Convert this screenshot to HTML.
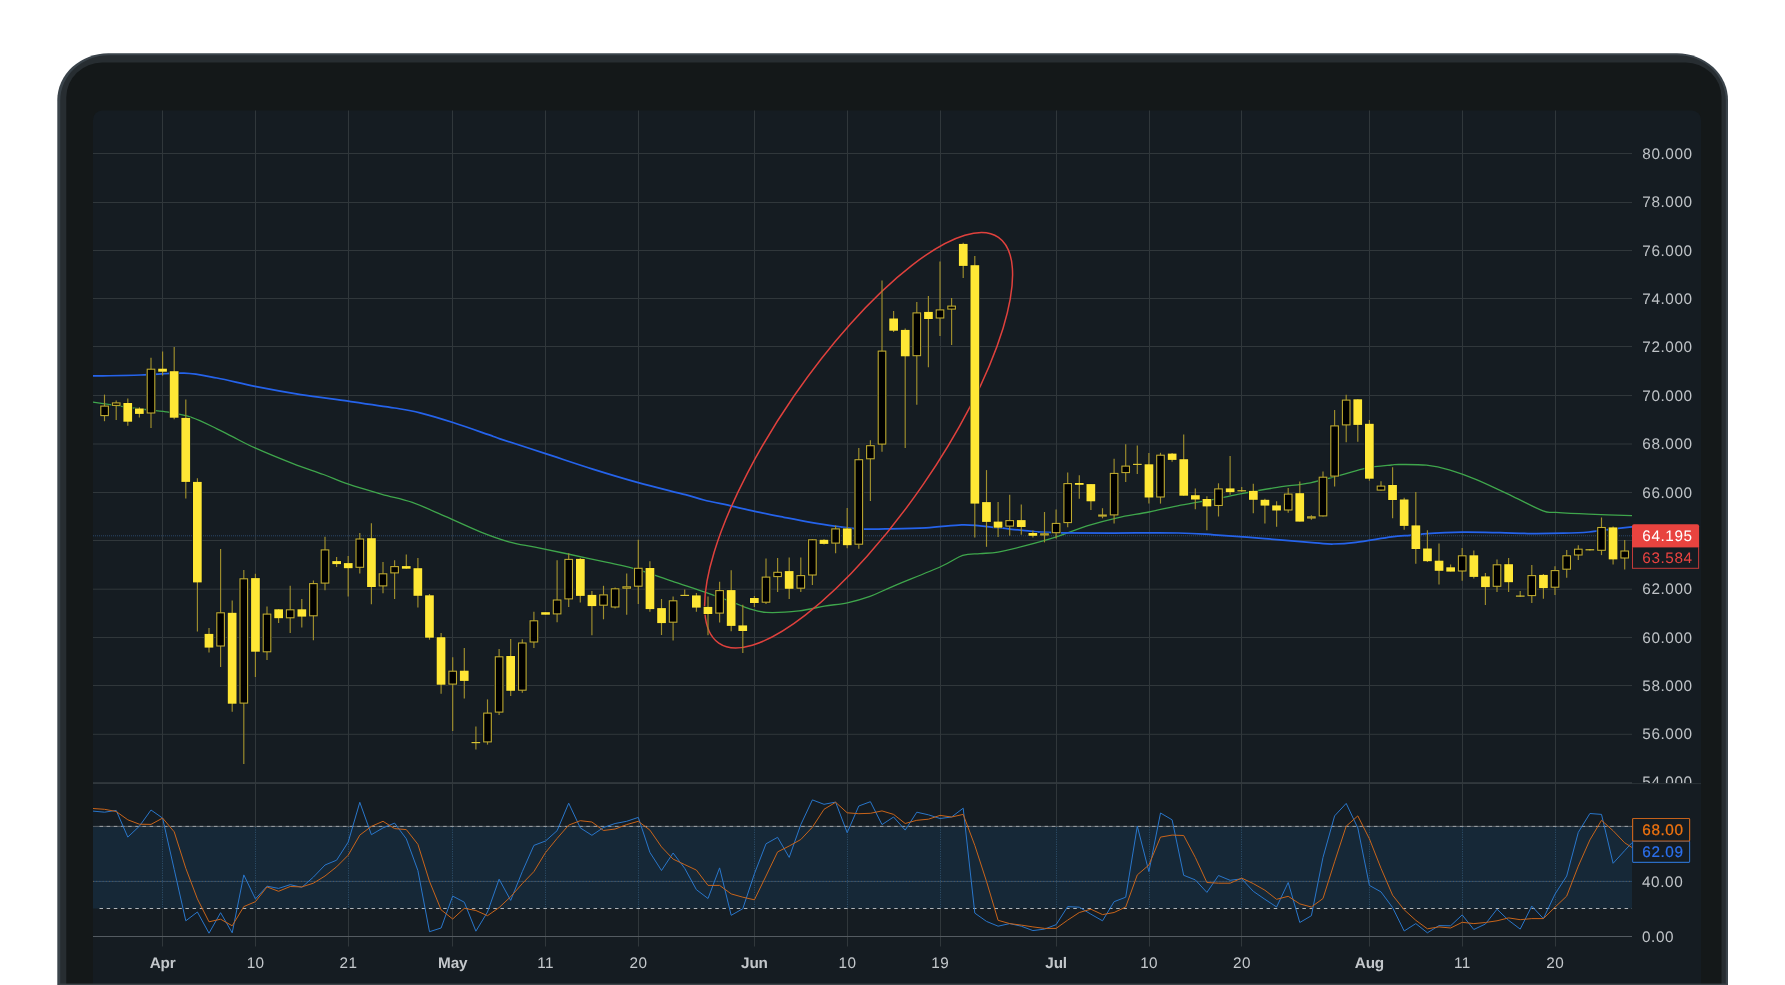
<!DOCTYPE html>
<html lang="en"><head><meta charset="utf-8"><title>Chart</title>
<style>html,body{margin:0;padding:0;background:#fff;}body{width:1785px;height:985px;overflow:hidden;position:relative;}svg{display:block;position:absolute;left:0;top:0;will-change:transform;}text{font-family:"Liberation Sans", Arial, sans-serif;text-rendering:geometricPrecision;}</style>
</head><body>
<svg width="1785" height="985" viewBox="0 0 1785 985">
<defs><clipPath id="main"><rect x="93" y="110.5" width="1608" height="673.1"/></clipPath>
<clipPath id="plot"><rect x="93" y="110.5" width="1539" height="672.5"/></clipPath>
<clipPath id="sub"><rect x="93" y="783" width="1539" height="202"/></clipPath></defs>
<g id="frame">
<rect x="57.3" y="53.3" width="1670.7" height="1000" rx="51" ry="47" fill="#3a434a"/>
<rect x="60.2" y="55.2" width="1665.6" height="1000" rx="48.5" ry="45.5" fill="#272d31"/>
<rect x="66.3" y="62.6" width="1655.2" height="1000" rx="36" ry="34.5" fill="#141819"/>
<rect x="93" y="110.5" width="1608" height="1000" rx="9" ry="9" fill="#151c22"/>
</g>
<g id="grid" stroke="#30373b" stroke-width="1">
<line x1="93" y1="153.5" x2="1632" y2="153.5"/>
<line x1="93" y1="202.5" x2="1632" y2="202.5"/>
<line x1="93" y1="250.5" x2="1632" y2="250.5"/>
<line x1="93" y1="298.5" x2="1632" y2="298.5"/>
<line x1="93" y1="346.5" x2="1632" y2="346.5"/>
<line x1="93" y1="395.5" x2="1632" y2="395.5"/>
<line x1="93" y1="444.0" x2="1632" y2="444.0"/>
<line x1="93" y1="492.5" x2="1632" y2="492.5"/>
<line x1="93" y1="540.5" x2="1632" y2="540.5"/>
<line x1="93" y1="589.2" x2="1632" y2="589.2"/>
<line x1="93" y1="637.5" x2="1632" y2="637.5"/>
<line x1="93" y1="685.5" x2="1632" y2="685.5"/>
<line x1="93" y1="734.3" x2="1632" y2="734.3"/>
<line x1="93" y1="783.0" x2="1632" y2="783.0"/>
<line x1="162.5" y1="110.5" x2="162.5" y2="946.5"/>
<line x1="255.5" y1="110.5" x2="255.5" y2="946.5"/>
<line x1="348.5" y1="110.5" x2="348.5" y2="946.5"/>
<line x1="452.5" y1="110.5" x2="452.5" y2="946.5"/>
<line x1="545.5" y1="110.5" x2="545.5" y2="946.5"/>
<line x1="638.5" y1="110.5" x2="638.5" y2="946.5"/>
<line x1="754.5" y1="110.5" x2="754.5" y2="946.5"/>
<line x1="847.5" y1="110.5" x2="847.5" y2="946.5"/>
<line x1="940.5" y1="110.5" x2="940.5" y2="946.5"/>
<line x1="1056.5" y1="110.5" x2="1056.5" y2="946.5"/>
<line x1="1149.5" y1="110.5" x2="1149.5" y2="946.5"/>
<line x1="1241.5" y1="110.5" x2="1241.5" y2="946.5"/>
<line x1="1369.5" y1="110.5" x2="1369.5" y2="946.5"/>
<line x1="1462.5" y1="110.5" x2="1462.5" y2="946.5"/>
<line x1="1555.5" y1="110.5" x2="1555.5" y2="946.5"/>
</g>
<line x1="93" y1="535.8" x2="1632" y2="535.8" stroke="#2a4668" stroke-width="1" stroke-dasharray="1 1"/>
<g clip-path="url(#plot)" fill="none" stroke-linejoin="round" stroke-linecap="round">
<path d="M93 402.2 C96.73 402.75 107.43 404.37 115.4 405.5 C123.37 406.63 132.37 407.95 140.8 409 C149.23 410.05 157.55 410.4 166 411.8 C174.45 413.2 183 414.57 191.5 417.4 C200 420.23 210.25 425.63 217 428.8 C223.75 431.97 225.67 433.22 232 436.4 C238.33 439.58 244.83 443.37 255 447.9 C265.17 452.43 281.58 459.17 293 463.6 C304.42 468.03 314.27 471.07 323.5 474.5 C332.73 477.93 338.65 480.9 348.4 484.2 C358.15 487.5 371.35 491.27 382 494.3 C392.65 497.33 401.75 498.72 412.3 502.4 C422.85 506.08 433.87 511.45 445.3 516.4 C456.73 521.35 470.32 527.87 480.9 532.1 C491.48 536.33 499.78 539.28 508.8 541.8 C517.82 544.32 525.13 545.17 535 547.2 C544.87 549.23 556.17 551.5 568 554 C579.83 556.5 594.23 559.57 606 562.2 C617.77 564.83 627.6 566.63 638.6 569.8 C649.6 572.97 660.48 577.32 672 581.2 C683.52 585.08 697.53 589.58 707.7 593.1 C717.87 596.62 726.23 599.75 733 602.3 C739.77 604.85 742.8 606.72 748.3 608.4 C753.8 610.08 757.55 611.98 766 612.4 C774.45 612.82 789.27 611.95 799 610.9 C808.73 609.85 816.35 607.45 824.4 606.1 C832.45 604.75 839.7 604.42 847.3 602.8 C854.9 601.18 862.38 599.15 870 596.4 C877.62 593.65 881.17 591.28 893 586.3 C904.83 581.32 929.38 571.67 941 566.5 C952.62 561.33 956.2 557.45 962.7 555.3 C969.2 553.15 974.12 554.13 980 553.6 C985.88 553.07 990.75 553.33 998 552.1 C1005.25 550.87 1013.77 548.73 1023.5 546.2 C1033.23 543.67 1045.82 540.28 1056.4 536.9 C1066.98 533.52 1076.83 529.08 1087 525.9 C1097.17 522.72 1107.07 520.12 1117.4 517.8 C1127.73 515.48 1138.43 514.12 1149 512 C1159.57 509.88 1170 507.22 1180.8 505.1 C1191.6 502.98 1203.65 501.2 1213.8 499.3 C1223.95 497.4 1231.12 495.68 1241.7 493.7 C1252.28 491.72 1265.87 489.22 1277.3 487.4 C1288.73 485.58 1299.73 484.83 1310.3 482.8 C1320.87 480.77 1331.42 477.65 1340.7 475.2 C1349.98 472.75 1357.53 469.8 1366 468.1 C1374.47 466.4 1385.67 465.6 1391.5 465 C1397.33 464.4 1395.18 464.47 1401 464.5 C1406.82 464.53 1418.37 464.32 1426.4 465.2 C1434.43 466.08 1440.77 467.35 1449.2 469.8 C1457.63 472.25 1466.42 475.47 1477 479.9 C1487.58 484.33 1501.7 491.23 1512.7 496.4 C1523.7 501.57 1535.82 508.23 1543 510.9 C1550.18 513.57 1548.17 511.85 1555.8 512.4 C1563.43 512.95 1576.1 513.65 1588.8 514.2 C1601.5 514.75 1624.8 515.45 1632 515.7" stroke="#3fa64c" stroke-width="1.3"/>
<path d="M93 376 C100.97 375.83 125.63 375.47 140.8 375 C155.97 374.53 171.3 372.7 184 373.2 C196.7 373.7 205.17 375.8 217 378 C228.83 380.2 241.05 383.63 255 386.4 C268.95 389.17 285.13 392.13 300.7 394.6 C316.27 397.07 332.75 398.97 348.4 401.2 C364.05 403.43 382.67 406.07 394.6 408 C406.53 409.93 410.27 410.38 420 412.8 C429.73 415.22 441.58 418.85 453 422.5 C464.42 426.15 480.67 431.98 488.5 434.7 C496.33 437.42 490.5 435.65 500 438.8 C509.5 441.95 530.05 448.55 545.5 453.6 C560.95 458.65 577.25 464.27 592.7 469.1 C608.15 473.93 622.75 478.33 638.2 482.6 C653.65 486.87 674.45 491.8 685.4 494.7 C696.35 497.6 695.97 498.07 703.9 500 C711.83 501.93 723.92 504.27 733 506.3 C742.08 508.33 749.93 510.37 758.4 512.2 C766.87 514.03 775.33 515.65 783.8 517.3 C792.27 518.95 800.73 520.63 809.2 522.1 C817.67 523.57 826.13 524.97 834.6 526.1 C843.07 527.23 851.55 528.43 860 528.9 C868.45 529.37 874.3 529.07 885.3 528.9 C896.3 528.73 913.3 528.57 926 527.9 C938.7 527.23 952.5 525.23 961.5 524.9 C970.5 524.57 973.92 525.43 980 525.9 C986.08 526.37 988.67 526.72 998 527.7 C1007.33 528.68 1025.42 530.95 1036 531.8 C1046.58 532.65 1048.78 532.6 1061.5 532.8 C1074.22 533 1092.83 532.97 1112.3 533 C1131.77 533.03 1161.38 532.7 1178.3 533 C1195.22 533.3 1199.42 533.87 1213.8 534.8 C1228.18 535.73 1247.68 537.25 1264.6 538.6 C1281.52 539.95 1303.9 542 1315.3 542.9 C1326.7 543.8 1326.22 544.08 1333 544 C1339.78 543.92 1346.25 543.58 1356 542.4 C1365.75 541.22 1382.5 538.08 1391.5 536.9 C1400.5 535.72 1404.62 535.82 1410 535.3 C1415.38 534.78 1415.13 534.32 1423.8 533.8 C1432.47 533.28 1449.3 532.38 1462 532.2 C1474.7 532.02 1489.02 532.48 1500 532.7 C1510.98 532.92 1517.33 533.42 1527.9 533.5 C1538.47 533.58 1553.25 533.45 1563.4 533.2 C1573.55 532.95 1580.33 532.72 1588.8 532 C1597.27 531.28 1607 529.75 1614.2 528.9 C1621.4 528.05 1629.03 527.23 1632 526.9" stroke="#2563eb" stroke-width="1.75"/>
<ellipse cx="858.6" cy="440.2" rx="246.4" ry="78.3" transform="rotate(-55.42 858.6 440.2)" stroke="#e0413d" stroke-width="1.5"/>
</g>
<g id="candles" clip-path="url(#plot)">
<rect x="99.6" y="404.9" width="9.9" height="11.8" fill="#0f171f"/>
<rect x="111.2" y="401.8" width="9.9" height="4.8" fill="#0f171f"/>
<rect x="122.8" y="402.4" width="9.9" height="19.9" fill="#0f171f"/>
<rect x="134.4" y="407.9" width="9.9" height="6.6" fill="#0f171f"/>
<rect x="146" y="368.1" width="9.9" height="46.1" fill="#0f171f"/>
<rect x="157.6" y="368.1" width="9.9" height="4.2" fill="#0f171f"/>
<rect x="169.2" y="370.6" width="9.9" height="47.7" fill="#0f171f"/>
<rect x="180.8" y="417.3" width="9.9" height="65.2" fill="#0f171f"/>
<rect x="192.4" y="481.3" width="9.9" height="101.7" fill="#0f171f"/>
<rect x="204" y="633.3" width="9.9" height="14.9" fill="#0f171f"/>
<rect x="215.6" y="611.7" width="9.9" height="35.5" fill="#0f171f"/>
<rect x="227.2" y="612.2" width="9.9" height="92.1" fill="#0f171f"/>
<rect x="238.8" y="577.7" width="9.9" height="126.6" fill="#0f171f"/>
<rect x="250.5" y="577.5" width="9.9" height="74.8" fill="#0f171f"/>
<rect x="262.1" y="613" width="9.9" height="40" fill="#0f171f"/>
<rect x="273.7" y="608.7" width="9.9" height="10.1" fill="#0f171f"/>
<rect x="285.3" y="608.7" width="9.9" height="10.3" fill="#0f171f"/>
<rect x="296.9" y="608.7" width="9.9" height="8.5" fill="#0f171f"/>
<rect x="308.5" y="582.5" width="9.9" height="34.5" fill="#0f171f"/>
<rect x="320.1" y="548.8" width="9.9" height="35.5" fill="#0f171f"/>
<rect x="331.7" y="560.5" width="9.9" height="4.2" fill="#0f171f"/>
<rect x="343.3" y="562.5" width="9.9" height="6.3" fill="#0f171f"/>
<rect x="354.9" y="537.9" width="9.9" height="30.6" fill="#0f171f"/>
<rect x="366.5" y="537.6" width="9.9" height="50" fill="#0f171f"/>
<rect x="378.1" y="572.6" width="9.9" height="14.4" fill="#0f171f"/>
<rect x="389.7" y="565.5" width="9.9" height="8.6" fill="#0f171f"/>
<rect x="401.3" y="565.5" width="9.9" height="3.8" fill="#0f171f"/>
<rect x="412.9" y="567.6" width="9.9" height="28.8" fill="#0f171f"/>
<rect x="424.5" y="594.7" width="9.9" height="43.6" fill="#0f171f"/>
<rect x="436.1" y="636.6" width="9.9" height="48.7" fill="#0f171f"/>
<rect x="447.7" y="670.1" width="9.9" height="15.2" fill="#0f171f"/>
<rect x="459.3" y="670.1" width="9.9" height="11.4" fill="#0f171f"/>
<rect x="470.9" y="741.4" width="9.9" height="2.4" fill="#0f171f"/>
<rect x="482.5" y="712" width="9.9" height="31.1" fill="#0f171f"/>
<rect x="494.1" y="655.6" width="9.9" height="57.6" fill="#0f171f"/>
<rect x="505.7" y="655.4" width="9.9" height="36" fill="#0f171f"/>
<rect x="517.3" y="641.9" width="9.9" height="49.5" fill="#0f171f"/>
<rect x="528.9" y="619.6" width="9.9" height="23.5" fill="#0f171f"/>
<rect x="540.6" y="611.6" width="9.9" height="3.7" fill="#0f171f"/>
<rect x="552.2" y="598.9" width="9.9" height="16.2" fill="#0f171f"/>
<rect x="563.8" y="558.3" width="9.9" height="41.8" fill="#0f171f"/>
<rect x="575.4" y="558.3" width="9.9" height="38.2" fill="#0f171f"/>
<rect x="587" y="594.3" width="9.9" height="12.4" fill="#0f171f"/>
<rect x="598.6" y="593.8" width="9.9" height="12.6" fill="#0f171f"/>
<rect x="610.2" y="587.7" width="9.9" height="20.5" fill="#0f171f"/>
<rect x="621.8" y="585.7" width="9.9" height="3.7" fill="#0f171f"/>
<rect x="633.4" y="567.2" width="9.9" height="20.2" fill="#0f171f"/>
<rect x="645" y="567.4" width="9.9" height="42.3" fill="#0f171f"/>
<rect x="656.6" y="607.5" width="9.9" height="16.2" fill="#0f171f"/>
<rect x="668.2" y="599.7" width="9.9" height="23.7" fill="#0f171f"/>
<rect x="679.8" y="594.2" width="9.9" height="2.4" fill="#0f171f"/>
<rect x="691.4" y="594.8" width="9.9" height="13.4" fill="#0f171f"/>
<rect x="703" y="606.3" width="9.9" height="8.3" fill="#0f171f"/>
<rect x="714.6" y="589.5" width="9.9" height="24.8" fill="#0f171f"/>
<rect x="726.2" y="589.5" width="9.9" height="37" fill="#0f171f"/>
<rect x="737.8" y="624.8" width="9.9" height="6.8" fill="#0f171f"/>
<rect x="749.4" y="597.4" width="9.9" height="6.2" fill="#0f171f"/>
<rect x="761" y="576" width="9.9" height="27.4" fill="#0f171f"/>
<rect x="772.6" y="571.2" width="9.9" height="6.6" fill="#0f171f"/>
<rect x="784.2" y="570.5" width="9.9" height="18.9" fill="#0f171f"/>
<rect x="795.8" y="574.5" width="9.9" height="14.9" fill="#0f171f"/>
<rect x="807.4" y="538.7" width="9.9" height="37.5" fill="#0f171f"/>
<rect x="819" y="539.2" width="9.9" height="5.3" fill="#0f171f"/>
<rect x="830.7" y="527.8" width="9.9" height="16.5" fill="#0f171f"/>
<rect x="842.3" y="527.8" width="9.9" height="18" fill="#0f171f"/>
<rect x="853.9" y="458.5" width="9.9" height="86.8" fill="#0f171f"/>
<rect x="865.5" y="444.5" width="9.9" height="15.4" fill="#0f171f"/>
<rect x="877.1" y="349.9" width="9.9" height="95.3" fill="#0f171f"/>
<rect x="888.7" y="317.9" width="9.9" height="13.4" fill="#0f171f"/>
<rect x="900.3" y="329.3" width="9.9" height="27.6" fill="#0f171f"/>
<rect x="911.9" y="311.8" width="9.9" height="45.1" fill="#0f171f"/>
<rect x="923.5" y="311.3" width="9.9" height="8.3" fill="#0f171f"/>
<rect x="935.1" y="308.7" width="9.9" height="10.4" fill="#0f171f"/>
<rect x="946.7" y="304.9" width="9.9" height="5.3" fill="#0f171f"/>
<rect x="958.3" y="243.3" width="9.9" height="23.2" fill="#0f171f"/>
<rect x="969.9" y="264.6" width="9.9" height="239.6" fill="#0f171f"/>
<rect x="981.5" y="501.5" width="9.9" height="21" fill="#0f171f"/>
<rect x="993.1" y="521" width="9.9" height="7.3" fill="#0f171f"/>
<rect x="1004.7" y="519.5" width="9.9" height="7.8" fill="#0f171f"/>
<rect x="1016.3" y="519.5" width="9.9" height="8.1" fill="#0f171f"/>
<rect x="1027.9" y="532.4" width="9.9" height="4" fill="#0f171f"/>
<rect x="1039.5" y="532.7" width="9.9" height="3.5" fill="#0f171f"/>
<rect x="1051.1" y="522.3" width="9.9" height="11.6" fill="#0f171f"/>
<rect x="1062.7" y="482.4" width="9.9" height="41.3" fill="#0f171f"/>
<rect x="1074.3" y="482.4" width="9.9" height="3" fill="#0f171f"/>
<rect x="1085.9" y="483.5" width="9.9" height="18.4" fill="#0f171f"/>
<rect x="1097.5" y="513.9" width="9.9" height="3.2" fill="#0f171f"/>
<rect x="1109.1" y="472.3" width="9.9" height="43.8" fill="#0f171f"/>
<rect x="1120.8" y="464.9" width="9.9" height="8.8" fill="#0f171f"/>
<rect x="1132.4" y="463.2" width="9.9" height="2.4" fill="#0f171f"/>
<rect x="1144" y="463.7" width="9.9" height="34.4" fill="#0f171f"/>
<rect x="1155.6" y="454" width="9.9" height="44.1" fill="#0f171f"/>
<rect x="1167.2" y="453" width="9.9" height="7.5" fill="#0f171f"/>
<rect x="1178.8" y="458.6" width="9.9" height="37.7" fill="#0f171f"/>
<rect x="1190.4" y="494.6" width="9.9" height="5.5" fill="#0f171f"/>
<rect x="1202" y="498.4" width="9.9" height="8.6" fill="#0f171f"/>
<rect x="1213.6" y="487.8" width="9.9" height="18.9" fill="#0f171f"/>
<rect x="1225.2" y="487.8" width="9.9" height="5" fill="#0f171f"/>
<rect x="1236.8" y="489.6" width="9.9" height="2.4" fill="#0f171f"/>
<rect x="1248.4" y="490.3" width="9.9" height="10.1" fill="#0f171f"/>
<rect x="1260" y="499.2" width="9.9" height="7" fill="#0f171f"/>
<rect x="1271.6" y="504.8" width="9.9" height="6.3" fill="#0f171f"/>
<rect x="1283.2" y="492.9" width="9.9" height="18.2" fill="#0f171f"/>
<rect x="1294.8" y="492.6" width="9.9" height="29.6" fill="#0f171f"/>
<rect x="1306.4" y="515.7" width="9.9" height="3.5" fill="#0f171f"/>
<rect x="1318" y="476.1" width="9.9" height="41" fill="#0f171f"/>
<rect x="1329.6" y="424.8" width="9.9" height="52.5" fill="#0f171f"/>
<rect x="1341.2" y="398.9" width="9.9" height="27.1" fill="#0f171f"/>
<rect x="1352.8" y="398.7" width="9.9" height="26.8" fill="#0f171f"/>
<rect x="1364.4" y="423.2" width="9.9" height="56.1" fill="#0f171f"/>
<rect x="1376" y="484.9" width="9.9" height="6.3" fill="#0f171f"/>
<rect x="1387.6" y="484.4" width="9.9" height="16.2" fill="#0f171f"/>
<rect x="1399.2" y="498.9" width="9.9" height="27.6" fill="#0f171f"/>
<rect x="1410.9" y="524.8" width="9.9" height="24.8" fill="#0f171f"/>
<rect x="1422.5" y="547.9" width="9.9" height="13.9" fill="#0f171f"/>
<rect x="1434.1" y="560.1" width="9.9" height="11.3" fill="#0f171f"/>
<rect x="1445.7" y="566.7" width="9.9" height="5.5" fill="#0f171f"/>
<rect x="1457.3" y="554.7" width="9.9" height="17.5" fill="#0f171f"/>
<rect x="1468.9" y="554.7" width="9.9" height="22.8" fill="#0f171f"/>
<rect x="1480.5" y="575.8" width="9.9" height="11.9" fill="#0f171f"/>
<rect x="1492.1" y="563.6" width="9.9" height="23.8" fill="#0f171f"/>
<rect x="1503.7" y="563.6" width="9.9" height="19.2" fill="#0f171f"/>
<rect x="1515.3" y="594.9" width="9.9" height="2.4" fill="#0f171f"/>
<rect x="1526.9" y="574.5" width="9.9" height="22.3" fill="#0f171f"/>
<rect x="1538.5" y="574.3" width="9.9" height="14.4" fill="#0f171f"/>
<rect x="1550.1" y="569.5" width="9.9" height="18.9" fill="#0f171f"/>
<rect x="1561.7" y="554.7" width="9.9" height="15.7" fill="#0f171f"/>
<rect x="1573.3" y="548.1" width="9.9" height="8.1" fill="#0f171f"/>
<rect x="1584.9" y="548.6" width="9.9" height="2.4" fill="#0f171f"/>
<rect x="1596.5" y="526.4" width="9.9" height="25.1" fill="#0f171f"/>
<rect x="1608.1" y="526.8" width="9.9" height="33.2" fill="#0f171f"/>
<rect x="1619.7" y="549.9" width="9.9" height="9.3" fill="#0f171f"/>
<line x1="104.5" y1="394.6" x2="104.5" y2="421.2" stroke="#a08f2d" stroke-width="1.15"/>
<rect x="100.8" y="406.1" width="7.6" height="9.5" fill="#000" stroke="#bfab31" stroke-width="1.1"/>
<line x1="116.2" y1="400.4" x2="116.2" y2="420" stroke="#a08f2d" stroke-width="1.15"/>
<rect x="112.4" y="402.9" width="7.6" height="2.5" fill="#000" stroke="#bfab31" stroke-width="1.1"/>
<line x1="127.8" y1="398.4" x2="127.8" y2="425.8" stroke="#a08f2d" stroke-width="1.15"/>
<rect x="123.4" y="403" width="8.7" height="18.7" fill="#ffe735"/>
<line x1="139.4" y1="407.3" x2="139.4" y2="417.4" stroke="#a08f2d" stroke-width="1.15"/>
<rect x="135" y="408.5" width="8.7" height="5.4" fill="#ffe735"/>
<line x1="151" y1="357.8" x2="151" y2="428" stroke="#a08f2d" stroke-width="1.15"/>
<rect x="147.2" y="369.2" width="7.6" height="43.8" fill="#000" stroke="#bfab31" stroke-width="1.1"/>
<line x1="162.6" y1="351.4" x2="162.6" y2="375.5" stroke="#a08f2d" stroke-width="1.15"/>
<rect x="158.2" y="368.7" width="8.7" height="3" fill="#ffe735"/>
<line x1="174.2" y1="347.1" x2="174.2" y2="419.2" stroke="#a08f2d" stroke-width="1.15"/>
<rect x="169.8" y="371.2" width="8.7" height="46.5" fill="#ffe735"/>
<line x1="185.8" y1="399.6" x2="185.8" y2="498.6" stroke="#a08f2d" stroke-width="1.15"/>
<rect x="181.4" y="417.9" width="8.7" height="64" fill="#ffe735"/>
<line x1="197.4" y1="478.3" x2="197.4" y2="631.4" stroke="#a08f2d" stroke-width="1.15"/>
<rect x="193" y="481.9" width="8.7" height="100.5" fill="#ffe735"/>
<line x1="209" y1="628.1" x2="209" y2="652.4" stroke="#a08f2d" stroke-width="1.15"/>
<rect x="204.6" y="633.9" width="8.7" height="13.7" fill="#ffe735"/>
<line x1="220.6" y1="548.9" x2="220.6" y2="666.9" stroke="#a08f2d" stroke-width="1.15"/>
<rect x="216.8" y="612.8" width="7.6" height="33.2" fill="#000" stroke="#bfab31" stroke-width="1.1"/>
<line x1="232.2" y1="600.4" x2="232.2" y2="711.8" stroke="#a08f2d" stroke-width="1.15"/>
<rect x="227.8" y="612.8" width="8.7" height="90.9" fill="#ffe735"/>
<line x1="243.8" y1="570" x2="243.8" y2="763.9" stroke="#a08f2d" stroke-width="1.15"/>
<rect x="240" y="578.8" width="7.6" height="124.3" fill="#000" stroke="#bfab31" stroke-width="1.1"/>
<line x1="255.4" y1="573.8" x2="255.4" y2="677" stroke="#a08f2d" stroke-width="1.15"/>
<rect x="251.1" y="578.1" width="8.7" height="73.6" fill="#ffe735"/>
<line x1="267" y1="606.5" x2="267" y2="660" stroke="#a08f2d" stroke-width="1.15"/>
<rect x="263.2" y="614.1" width="7.6" height="37.7" fill="#000" stroke="#bfab31" stroke-width="1.1"/>
<line x1="278.6" y1="609.3" x2="278.6" y2="623" stroke="#a08f2d" stroke-width="1.15"/>
<rect x="274.3" y="609.3" width="8.7" height="8.9" fill="#ffe735"/>
<line x1="290.2" y1="585.7" x2="290.2" y2="633.1" stroke="#a08f2d" stroke-width="1.15"/>
<rect x="286.4" y="609.8" width="7.6" height="8" fill="#000" stroke="#bfab31" stroke-width="1.1"/>
<line x1="301.8" y1="598.9" x2="301.8" y2="627.6" stroke="#a08f2d" stroke-width="1.15"/>
<rect x="297.5" y="609.3" width="8.7" height="7.3" fill="#ffe735"/>
<line x1="313.4" y1="580.6" x2="313.4" y2="640.3" stroke="#a08f2d" stroke-width="1.15"/>
<rect x="309.6" y="583.6" width="7.6" height="32.2" fill="#000" stroke="#bfab31" stroke-width="1.1"/>
<line x1="325" y1="536.7" x2="325" y2="590.3" stroke="#a08f2d" stroke-width="1.15"/>
<rect x="321.2" y="549.9" width="7.6" height="33.2" fill="#000" stroke="#bfab31" stroke-width="1.1"/>
<line x1="336.6" y1="557" x2="336.6" y2="566.9" stroke="#a08f2d" stroke-width="1.15"/>
<rect x="332.3" y="561.1" width="8.7" height="3" fill="#ffe735"/>
<line x1="348.2" y1="556" x2="348.2" y2="596.6" stroke="#a08f2d" stroke-width="1.15"/>
<rect x="343.9" y="563.1" width="8.7" height="5.1" fill="#ffe735"/>
<line x1="359.8" y1="532.9" x2="359.8" y2="573.5" stroke="#a08f2d" stroke-width="1.15"/>
<rect x="356" y="539" width="7.6" height="28.3" fill="#000" stroke="#bfab31" stroke-width="1.1"/>
<line x1="371.4" y1="523.2" x2="371.4" y2="604.2" stroke="#a08f2d" stroke-width="1.15"/>
<rect x="367.1" y="538.2" width="8.7" height="48.8" fill="#ffe735"/>
<line x1="383" y1="562.1" x2="383" y2="593.3" stroke="#a08f2d" stroke-width="1.15"/>
<rect x="379.2" y="573.8" width="7.6" height="12.1" fill="#000" stroke="#bfab31" stroke-width="1.1"/>
<line x1="394.6" y1="560.3" x2="394.6" y2="598.9" stroke="#a08f2d" stroke-width="1.15"/>
<rect x="390.8" y="566.6" width="7.6" height="6.3" fill="#000" stroke="#bfab31" stroke-width="1.1"/>
<line x1="406.3" y1="554.5" x2="406.3" y2="568.7" stroke="#a08f2d" stroke-width="1.15"/>
<rect x="401.9" y="566.1" width="8.7" height="2.6" fill="#ffe735"/>
<line x1="417.9" y1="558" x2="417.9" y2="607.5" stroke="#a08f2d" stroke-width="1.15"/>
<rect x="413.5" y="568.2" width="8.7" height="27.6" fill="#ffe735"/>
<line x1="429.5" y1="594" x2="429.5" y2="639.7" stroke="#a08f2d" stroke-width="1.15"/>
<rect x="425.1" y="595.3" width="8.7" height="42.4" fill="#ffe735"/>
<line x1="441.1" y1="633.1" x2="441.1" y2="693.8" stroke="#a08f2d" stroke-width="1.15"/>
<rect x="436.7" y="637.2" width="8.7" height="47.5" fill="#ffe735"/>
<line x1="452.7" y1="657.3" x2="452.7" y2="730.9" stroke="#a08f2d" stroke-width="1.15"/>
<rect x="448.9" y="671.2" width="7.6" height="12.9" fill="#000" stroke="#bfab31" stroke-width="1.1"/>
<line x1="464.3" y1="648.1" x2="464.3" y2="698.6" stroke="#a08f2d" stroke-width="1.15"/>
<rect x="459.9" y="670.7" width="8.7" height="10.2" fill="#ffe735"/>
<line x1="475.9" y1="726.5" x2="475.9" y2="749.6" stroke="#a08f2d" stroke-width="1.15"/>
<rect x="471.5" y="742" width="8.7" height="1.2" fill="#d9c534"/>
<line x1="487.5" y1="699.4" x2="487.5" y2="744.6" stroke="#a08f2d" stroke-width="1.15"/>
<rect x="483.7" y="713.1" width="7.6" height="28.8" fill="#000" stroke="#bfab31" stroke-width="1.1"/>
<line x1="499.1" y1="649.1" x2="499.1" y2="715.1" stroke="#a08f2d" stroke-width="1.15"/>
<rect x="495.3" y="656.8" width="7.6" height="55.3" fill="#000" stroke="#bfab31" stroke-width="1.1"/>
<line x1="510.7" y1="639" x2="510.7" y2="696.1" stroke="#a08f2d" stroke-width="1.15"/>
<rect x="506.3" y="656" width="8.7" height="34.8" fill="#ffe735"/>
<line x1="522.3" y1="639.2" x2="522.3" y2="692.8" stroke="#a08f2d" stroke-width="1.15"/>
<rect x="518.5" y="643" width="7.6" height="47.2" fill="#000" stroke="#bfab31" stroke-width="1.1"/>
<line x1="533.9" y1="611.8" x2="533.9" y2="648.1" stroke="#a08f2d" stroke-width="1.15"/>
<rect x="530.1" y="620.8" width="7.6" height="21.2" fill="#000" stroke="#bfab31" stroke-width="1.1"/>
<line x1="545.5" y1="612.2" x2="545.5" y2="614.7" stroke="#a08f2d" stroke-width="1.15"/>
<rect x="541.2" y="612.2" width="8.7" height="2.5" fill="#ffe735"/>
<line x1="557.1" y1="560.2" x2="557.1" y2="622.3" stroke="#a08f2d" stroke-width="1.15"/>
<rect x="553.3" y="600" width="7.6" height="13.9" fill="#000" stroke="#bfab31" stroke-width="1.1"/>
<line x1="568.7" y1="553.3" x2="568.7" y2="607.1" stroke="#a08f2d" stroke-width="1.15"/>
<rect x="564.9" y="559.4" width="7.6" height="39.5" fill="#000" stroke="#bfab31" stroke-width="1.1"/>
<line x1="580.3" y1="557.9" x2="580.3" y2="602.5" stroke="#a08f2d" stroke-width="1.15"/>
<rect x="576" y="558.9" width="8.7" height="37" fill="#ffe735"/>
<line x1="591.9" y1="590.9" x2="591.9" y2="635.3" stroke="#a08f2d" stroke-width="1.15"/>
<rect x="587.6" y="594.9" width="8.7" height="11.2" fill="#ffe735"/>
<line x1="603.5" y1="585.8" x2="603.5" y2="619.3" stroke="#a08f2d" stroke-width="1.15"/>
<rect x="599.7" y="594.9" width="7.6" height="10.3" fill="#000" stroke="#bfab31" stroke-width="1.1"/>
<line x1="615.1" y1="587.5" x2="615.1" y2="608.4" stroke="#a08f2d" stroke-width="1.15"/>
<rect x="611.3" y="588.8" width="7.6" height="18.2" fill="#000" stroke="#bfab31" stroke-width="1.1"/>
<line x1="626.7" y1="573.6" x2="626.7" y2="614.7" stroke="#a08f2d" stroke-width="1.15"/>
<rect x="622.9" y="586.8" width="7.6" height="1.4" fill="#000" stroke="#bfab31" stroke-width="1.1"/>
<line x1="638.3" y1="539.8" x2="638.3" y2="604.1" stroke="#a08f2d" stroke-width="1.15"/>
<rect x="634.5" y="568.3" width="7.6" height="17.9" fill="#000" stroke="#bfab31" stroke-width="1.1"/>
<line x1="649.9" y1="561.2" x2="649.9" y2="611.7" stroke="#a08f2d" stroke-width="1.15"/>
<rect x="645.6" y="568" width="8.7" height="41.1" fill="#ffe735"/>
<line x1="661.5" y1="599" x2="661.5" y2="635" stroke="#a08f2d" stroke-width="1.15"/>
<rect x="657.2" y="608.1" width="8.7" height="15" fill="#ffe735"/>
<line x1="673.1" y1="596.4" x2="673.1" y2="640.4" stroke="#a08f2d" stroke-width="1.15"/>
<rect x="669.3" y="600.8" width="7.6" height="21.4" fill="#000" stroke="#bfab31" stroke-width="1.1"/>
<line x1="684.7" y1="589.6" x2="684.7" y2="596" stroke="#a08f2d" stroke-width="1.15"/>
<rect x="680.4" y="594.8" width="8.7" height="1.2" fill="#d9c534"/>
<line x1="696.4" y1="592.9" x2="696.4" y2="611.7" stroke="#a08f2d" stroke-width="1.15"/>
<rect x="692" y="595.4" width="8.7" height="12.2" fill="#ffe735"/>
<line x1="708" y1="596.4" x2="708" y2="635.3" stroke="#a08f2d" stroke-width="1.15"/>
<rect x="703.6" y="606.9" width="8.7" height="7.1" fill="#ffe735"/>
<line x1="719.6" y1="581.7" x2="719.6" y2="622.6" stroke="#a08f2d" stroke-width="1.15"/>
<rect x="715.8" y="590.6" width="7.6" height="22.5" fill="#000" stroke="#bfab31" stroke-width="1.1"/>
<line x1="731.2" y1="570.3" x2="731.2" y2="631.2" stroke="#a08f2d" stroke-width="1.15"/>
<rect x="726.8" y="590.1" width="8.7" height="35.8" fill="#ffe735"/>
<line x1="742.8" y1="604.8" x2="742.8" y2="653" stroke="#a08f2d" stroke-width="1.15"/>
<rect x="738.4" y="625.4" width="8.7" height="5.6" fill="#ffe735"/>
<line x1="754.4" y1="596" x2="754.4" y2="607.1" stroke="#a08f2d" stroke-width="1.15"/>
<rect x="750" y="598" width="8.7" height="5" fill="#ffe735"/>
<line x1="766" y1="558.6" x2="766" y2="604.1" stroke="#a08f2d" stroke-width="1.15"/>
<rect x="762.2" y="577.1" width="7.6" height="25.1" fill="#000" stroke="#bfab31" stroke-width="1.1"/>
<line x1="777.6" y1="557.9" x2="777.6" y2="592.1" stroke="#a08f2d" stroke-width="1.15"/>
<rect x="773.8" y="572.3" width="7.6" height="4.3" fill="#000" stroke="#bfab31" stroke-width="1.1"/>
<line x1="789.2" y1="557.4" x2="789.2" y2="599" stroke="#a08f2d" stroke-width="1.15"/>
<rect x="784.8" y="571.1" width="8.7" height="17.7" fill="#ffe735"/>
<line x1="800.8" y1="557.4" x2="800.8" y2="591.9" stroke="#a08f2d" stroke-width="1.15"/>
<rect x="797" y="575.6" width="7.6" height="12.6" fill="#000" stroke="#bfab31" stroke-width="1.1"/>
<line x1="812.4" y1="539.3" x2="812.4" y2="585" stroke="#a08f2d" stroke-width="1.15"/>
<rect x="808.6" y="539.8" width="7.6" height="35.2" fill="#000" stroke="#bfab31" stroke-width="1.1"/>
<line x1="824" y1="539.3" x2="824" y2="544.5" stroke="#a08f2d" stroke-width="1.15"/>
<rect x="819.6" y="539.8" width="8.7" height="4.1" fill="#ffe735"/>
<line x1="835.6" y1="525.4" x2="835.6" y2="553.3" stroke="#a08f2d" stroke-width="1.15"/>
<rect x="831.8" y="528.9" width="7.6" height="14.2" fill="#000" stroke="#bfab31" stroke-width="1.1"/>
<line x1="847.2" y1="508.1" x2="847.2" y2="548.2" stroke="#a08f2d" stroke-width="1.15"/>
<rect x="842.9" y="528.4" width="8.7" height="16.8" fill="#ffe735"/>
<line x1="858.8" y1="447.9" x2="858.8" y2="548.7" stroke="#a08f2d" stroke-width="1.15"/>
<rect x="855" y="459.7" width="7.6" height="84.5" fill="#000" stroke="#bfab31" stroke-width="1.1"/>
<line x1="870.4" y1="440.3" x2="870.4" y2="501" stroke="#a08f2d" stroke-width="1.15"/>
<rect x="866.6" y="445.7" width="7.6" height="13.1" fill="#000" stroke="#bfab31" stroke-width="1.1"/>
<line x1="882" y1="280.4" x2="882" y2="451.7" stroke="#a08f2d" stroke-width="1.15"/>
<rect x="878.2" y="351.1" width="7.6" height="93" fill="#000" stroke="#bfab31" stroke-width="1.1"/>
<line x1="893.6" y1="310.9" x2="893.6" y2="331.9" stroke="#a08f2d" stroke-width="1.15"/>
<rect x="889.3" y="318.5" width="8.7" height="12.2" fill="#ffe735"/>
<line x1="905.2" y1="328.6" x2="905.2" y2="447.9" stroke="#a08f2d" stroke-width="1.15"/>
<rect x="900.9" y="329.9" width="8.7" height="26.4" fill="#ffe735"/>
<line x1="916.8" y1="302" x2="916.8" y2="404.8" stroke="#a08f2d" stroke-width="1.15"/>
<rect x="913" y="312.9" width="7.6" height="42.8" fill="#000" stroke="#bfab31" stroke-width="1.1"/>
<line x1="928.4" y1="296.1" x2="928.4" y2="367.2" stroke="#a08f2d" stroke-width="1.15"/>
<rect x="924.1" y="311.9" width="8.7" height="7.1" fill="#ffe735"/>
<line x1="940" y1="261.4" x2="940" y2="336" stroke="#a08f2d" stroke-width="1.15"/>
<rect x="936.2" y="309.9" width="7.6" height="8.1" fill="#000" stroke="#bfab31" stroke-width="1.1"/>
<line x1="951.6" y1="297.9" x2="951.6" y2="345.1" stroke="#a08f2d" stroke-width="1.15"/>
<rect x="947.8" y="306.1" width="7.6" height="3" fill="#000" stroke="#bfab31" stroke-width="1.1"/>
<line x1="963.2" y1="242.8" x2="963.2" y2="277.9" stroke="#a08f2d" stroke-width="1.15"/>
<rect x="958.9" y="243.9" width="8.7" height="22" fill="#ffe735"/>
<line x1="974.8" y1="256" x2="974.8" y2="537.4" stroke="#a08f2d" stroke-width="1.15"/>
<rect x="970.5" y="265.2" width="8.7" height="238.4" fill="#ffe735"/>
<line x1="986.5" y1="470.1" x2="986.5" y2="546.8" stroke="#a08f2d" stroke-width="1.15"/>
<rect x="982.1" y="502.1" width="8.7" height="19.8" fill="#ffe735"/>
<line x1="998.1" y1="502.1" x2="998.1" y2="536.9" stroke="#a08f2d" stroke-width="1.15"/>
<rect x="993.7" y="521.6" width="8.7" height="6.1" fill="#ffe735"/>
<line x1="1009.7" y1="494.7" x2="1009.7" y2="535.8" stroke="#a08f2d" stroke-width="1.15"/>
<rect x="1005.9" y="520.6" width="7.6" height="5.5" fill="#000" stroke="#bfab31" stroke-width="1.1"/>
<line x1="1021.3" y1="504.6" x2="1021.3" y2="534.8" stroke="#a08f2d" stroke-width="1.15"/>
<rect x="1016.9" y="520.1" width="8.7" height="6.9" fill="#ffe735"/>
<line x1="1032.9" y1="530.5" x2="1032.9" y2="537.4" stroke="#a08f2d" stroke-width="1.15"/>
<rect x="1028.5" y="533" width="8.7" height="2.8" fill="#ffe735"/>
<line x1="1044.5" y1="512" x2="1044.5" y2="542.4" stroke="#a08f2d" stroke-width="1.15"/>
<rect x="1040.7" y="533.8" width="7.6" height="1.2" fill="#000" stroke="#bfab31" stroke-width="1.1"/>
<line x1="1056.1" y1="509.4" x2="1056.1" y2="538.6" stroke="#a08f2d" stroke-width="1.15"/>
<rect x="1052.3" y="523.4" width="7.6" height="9.3" fill="#000" stroke="#bfab31" stroke-width="1.1"/>
<line x1="1067.7" y1="472.6" x2="1067.7" y2="527.2" stroke="#a08f2d" stroke-width="1.15"/>
<rect x="1063.9" y="483.6" width="7.6" height="39" fill="#000" stroke="#bfab31" stroke-width="1.1"/>
<line x1="1079.3" y1="475.2" x2="1079.3" y2="498.8" stroke="#a08f2d" stroke-width="1.15"/>
<rect x="1074.9" y="483" width="8.7" height="1.8" fill="#ffe735"/>
<line x1="1090.9" y1="484.1" x2="1090.9" y2="509.9" stroke="#a08f2d" stroke-width="1.15"/>
<rect x="1086.5" y="484.1" width="8.7" height="17.2" fill="#ffe735"/>
<line x1="1102.5" y1="508.2" x2="1102.5" y2="518.3" stroke="#a08f2d" stroke-width="1.15"/>
<rect x="1098.7" y="515" width="7.6" height="1.1" fill="#000" stroke="#bfab31" stroke-width="1.1"/>
<line x1="1114.1" y1="458.7" x2="1114.1" y2="523.4" stroke="#a08f2d" stroke-width="1.15"/>
<rect x="1110.3" y="473.4" width="7.6" height="41.5" fill="#000" stroke="#bfab31" stroke-width="1.1"/>
<line x1="1125.7" y1="444.2" x2="1125.7" y2="482" stroke="#a08f2d" stroke-width="1.15"/>
<rect x="1121.9" y="466.1" width="7.6" height="6.5" fill="#000" stroke="#bfab31" stroke-width="1.1"/>
<line x1="1137.3" y1="445.5" x2="1137.3" y2="473.9" stroke="#a08f2d" stroke-width="1.15"/>
<rect x="1133" y="463.8" width="8.7" height="1.2" fill="#d9c534"/>
<line x1="1148.9" y1="453.1" x2="1148.9" y2="503.6" stroke="#a08f2d" stroke-width="1.15"/>
<rect x="1144.6" y="464.3" width="8.7" height="33.2" fill="#ffe735"/>
<line x1="1160.5" y1="452.8" x2="1160.5" y2="503.6" stroke="#a08f2d" stroke-width="1.15"/>
<rect x="1156.7" y="455.2" width="7.6" height="41.8" fill="#000" stroke="#bfab31" stroke-width="1.1"/>
<line x1="1172.1" y1="453.1" x2="1172.1" y2="461.7" stroke="#a08f2d" stroke-width="1.15"/>
<rect x="1167.8" y="453.6" width="8.7" height="6.3" fill="#ffe735"/>
<line x1="1183.7" y1="434.6" x2="1183.7" y2="495.7" stroke="#a08f2d" stroke-width="1.15"/>
<rect x="1179.4" y="459.2" width="8.7" height="36.5" fill="#ffe735"/>
<line x1="1195.3" y1="488.4" x2="1195.3" y2="509.2" stroke="#a08f2d" stroke-width="1.15"/>
<rect x="1191" y="495.2" width="8.7" height="4.3" fill="#ffe735"/>
<line x1="1206.9" y1="496.2" x2="1206.9" y2="530.3" stroke="#a08f2d" stroke-width="1.15"/>
<rect x="1202.6" y="499" width="8.7" height="7.4" fill="#ffe735"/>
<line x1="1218.5" y1="483.3" x2="1218.5" y2="516.5" stroke="#a08f2d" stroke-width="1.15"/>
<rect x="1214.7" y="488.9" width="7.6" height="16.6" fill="#000" stroke="#bfab31" stroke-width="1.1"/>
<line x1="1230.1" y1="456.1" x2="1230.1" y2="494.7" stroke="#a08f2d" stroke-width="1.15"/>
<rect x="1225.8" y="488.4" width="8.7" height="3.8" fill="#ffe735"/>
<line x1="1241.7" y1="487.1" x2="1241.7" y2="491.7" stroke="#a08f2d" stroke-width="1.15"/>
<rect x="1237.4" y="490.2" width="8.7" height="1.2" fill="#d9c534"/>
<line x1="1253.3" y1="483.8" x2="1253.3" y2="513.2" stroke="#a08f2d" stroke-width="1.15"/>
<rect x="1249" y="490.9" width="8.7" height="8.9" fill="#ffe735"/>
<line x1="1264.9" y1="498.8" x2="1264.9" y2="523.4" stroke="#a08f2d" stroke-width="1.15"/>
<rect x="1260.6" y="499.8" width="8.7" height="5.8" fill="#ffe735"/>
<line x1="1276.6" y1="501.3" x2="1276.6" y2="526.7" stroke="#a08f2d" stroke-width="1.15"/>
<rect x="1272.2" y="505.4" width="8.7" height="5.1" fill="#ffe735"/>
<line x1="1288.2" y1="487.9" x2="1288.2" y2="512.7" stroke="#a08f2d" stroke-width="1.15"/>
<rect x="1284.4" y="494.1" width="7.6" height="15.9" fill="#000" stroke="#bfab31" stroke-width="1.1"/>
<line x1="1299.8" y1="481.5" x2="1299.8" y2="521.6" stroke="#a08f2d" stroke-width="1.15"/>
<rect x="1295.4" y="493.2" width="8.7" height="28.4" fill="#ffe735"/>
<line x1="1311.4" y1="515.3" x2="1311.4" y2="519.8" stroke="#a08f2d" stroke-width="1.15"/>
<rect x="1307.6" y="516.8" width="7.6" height="1.2" fill="#000" stroke="#bfab31" stroke-width="1.1"/>
<line x1="1323" y1="471.4" x2="1323" y2="516.5" stroke="#a08f2d" stroke-width="1.15"/>
<rect x="1319.2" y="477.2" width="7.6" height="38.7" fill="#000" stroke="#bfab31" stroke-width="1.1"/>
<line x1="1334.6" y1="409.9" x2="1334.6" y2="486.6" stroke="#a08f2d" stroke-width="1.15"/>
<rect x="1330.8" y="425.9" width="7.6" height="50.2" fill="#000" stroke="#bfab31" stroke-width="1.1"/>
<line x1="1346.2" y1="394.7" x2="1346.2" y2="442.2" stroke="#a08f2d" stroke-width="1.15"/>
<rect x="1342.4" y="400.1" width="7.6" height="24.8" fill="#000" stroke="#bfab31" stroke-width="1.1"/>
<line x1="1357.8" y1="399.3" x2="1357.8" y2="441.7" stroke="#a08f2d" stroke-width="1.15"/>
<rect x="1353.4" y="399.3" width="8.7" height="25.6" fill="#ffe735"/>
<line x1="1369.4" y1="420.1" x2="1369.4" y2="480.8" stroke="#a08f2d" stroke-width="1.15"/>
<rect x="1365" y="423.8" width="8.7" height="54.9" fill="#ffe735"/>
<line x1="1381" y1="481.3" x2="1381" y2="490.6" stroke="#a08f2d" stroke-width="1.15"/>
<rect x="1377.2" y="486.1" width="7.6" height="4" fill="#000" stroke="#bfab31" stroke-width="1.1"/>
<line x1="1392.6" y1="467.2" x2="1392.6" y2="518.2" stroke="#a08f2d" stroke-width="1.15"/>
<rect x="1388.2" y="485" width="8.7" height="15" fill="#ffe735"/>
<line x1="1404.2" y1="497.8" x2="1404.2" y2="529.8" stroke="#a08f2d" stroke-width="1.15"/>
<rect x="1399.8" y="499.5" width="8.7" height="26.4" fill="#ffe735"/>
<line x1="1415.8" y1="492.1" x2="1415.8" y2="563.7" stroke="#a08f2d" stroke-width="1.15"/>
<rect x="1411.5" y="525.4" width="8.7" height="23.6" fill="#ffe735"/>
<line x1="1427.4" y1="530.2" x2="1427.4" y2="561.9" stroke="#a08f2d" stroke-width="1.15"/>
<rect x="1423.1" y="548.5" width="8.7" height="12.7" fill="#ffe735"/>
<line x1="1439" y1="543.4" x2="1439" y2="584.5" stroke="#a08f2d" stroke-width="1.15"/>
<rect x="1434.7" y="560.7" width="8.7" height="10.1" fill="#ffe735"/>
<line x1="1450.6" y1="564.5" x2="1450.6" y2="571.6" stroke="#a08f2d" stroke-width="1.15"/>
<rect x="1446.3" y="567.3" width="8.7" height="4.3" fill="#ffe735"/>
<line x1="1462.2" y1="548" x2="1462.2" y2="580.7" stroke="#a08f2d" stroke-width="1.15"/>
<rect x="1458.4" y="555.8" width="7.6" height="15.2" fill="#000" stroke="#bfab31" stroke-width="1.1"/>
<line x1="1473.8" y1="550.5" x2="1473.8" y2="578.4" stroke="#a08f2d" stroke-width="1.15"/>
<rect x="1469.5" y="555.3" width="8.7" height="21.6" fill="#ffe735"/>
<line x1="1485.4" y1="573.1" x2="1485.4" y2="605.1" stroke="#a08f2d" stroke-width="1.15"/>
<rect x="1481.1" y="576.4" width="8.7" height="10.7" fill="#ffe735"/>
<line x1="1497" y1="559.4" x2="1497" y2="591.9" stroke="#a08f2d" stroke-width="1.15"/>
<rect x="1493.2" y="564.8" width="7.6" height="21.5" fill="#000" stroke="#bfab31" stroke-width="1.1"/>
<line x1="1508.6" y1="557.9" x2="1508.6" y2="591.9" stroke="#a08f2d" stroke-width="1.15"/>
<rect x="1504.3" y="564.2" width="8.7" height="18" fill="#ffe735"/>
<line x1="1520.2" y1="590.9" x2="1520.2" y2="596.7" stroke="#a08f2d" stroke-width="1.15"/>
<rect x="1515.9" y="595.5" width="8.7" height="1.2" fill="#d9c534"/>
<line x1="1531.8" y1="565" x2="1531.8" y2="603" stroke="#a08f2d" stroke-width="1.15"/>
<rect x="1528" y="575.6" width="7.6" height="20" fill="#000" stroke="#bfab31" stroke-width="1.1"/>
<line x1="1543.4" y1="573.9" x2="1543.4" y2="598.7" stroke="#a08f2d" stroke-width="1.15"/>
<rect x="1539.1" y="574.9" width="8.7" height="13.2" fill="#ffe735"/>
<line x1="1555" y1="566.2" x2="1555" y2="594.9" stroke="#a08f2d" stroke-width="1.15"/>
<rect x="1551.2" y="570.6" width="7.6" height="16.6" fill="#000" stroke="#bfab31" stroke-width="1.1"/>
<line x1="1566.7" y1="550" x2="1566.7" y2="577.7" stroke="#a08f2d" stroke-width="1.15"/>
<rect x="1562.9" y="555.8" width="7.6" height="13.4" fill="#000" stroke="#bfab31" stroke-width="1.1"/>
<line x1="1578.3" y1="545.2" x2="1578.3" y2="559.9" stroke="#a08f2d" stroke-width="1.15"/>
<rect x="1574.5" y="549.2" width="7.6" height="5.8" fill="#000" stroke="#bfab31" stroke-width="1.1"/>
<line x1="1589.9" y1="549" x2="1589.9" y2="550.4" stroke="#a08f2d" stroke-width="1.15"/>
<rect x="1585.5" y="549.2" width="8.7" height="1.2" fill="#d9c534"/>
<line x1="1601.5" y1="517.5" x2="1601.5" y2="555.1" stroke="#a08f2d" stroke-width="1.15"/>
<rect x="1597.7" y="527.5" width="7.6" height="22.8" fill="#000" stroke="#bfab31" stroke-width="1.1"/>
<line x1="1613.1" y1="526.4" x2="1613.1" y2="564.5" stroke="#a08f2d" stroke-width="1.15"/>
<rect x="1608.7" y="527.4" width="8.7" height="32" fill="#ffe735"/>
<line x1="1624.7" y1="540.1" x2="1624.7" y2="569.5" stroke="#a08f2d" stroke-width="1.15"/>
<rect x="1620.9" y="551" width="7.6" height="7" fill="#000" stroke="#bfab31" stroke-width="1.1"/>
</g>
<g id="yaxis" clip-path="url(#main)" fill="#bfc3c7" font-size="15.3" letter-spacing="0.6">
<text x="1642.3" y="158.9">80.000</text>
<text x="1642.3" y="207.3">78.000</text>
<text x="1642.3" y="255.7">76.000</text>
<text x="1642.3" y="304.1">74.000</text>
<text x="1642.3" y="352.4">72.000</text>
<text x="1642.3" y="400.8">70.000</text>
<text x="1642.3" y="449.2">68.000</text>
<text x="1642.3" y="497.5">66.000</text>
<text x="1642.3" y="545.9">64.000</text>
<text x="1642.3" y="594.3">62.000</text>
<text x="1642.3" y="642.6">60.000</text>
<text x="1642.3" y="691">58.000</text>
<text x="1642.3" y="739.4">56.000</text>
<text x="1642.3" y="787">54.000</text>
</g>
<rect x="1632.5" y="547" width="66.1" height="21.3" fill="#151c22" stroke="#c23a39" stroke-width="1"/>
<path d="M1632 547 V526.2 a2 2 0 0 1 2 -2 H1697.1 a2 2 0 0 1 2 2 V547 Z" fill="#e8433f"/>
<text x="1642.3" y="541.3" fill="#fff" font-size="15.3" letter-spacing="0.6">64.195</text>
<text x="1642.3" y="562.9" fill="#ea4340" font-size="15.3" letter-spacing="0.6">63.584</text>
<g id="sub">
<rect x="93" y="783.6" width="1608" height="202" fill="#151c22"/>
<line x1="93" y1="783.1" x2="1632" y2="783.1" stroke="#394045" stroke-width="1.3"/>
<line x1="1632" y1="783.6" x2="1701" y2="783.6" stroke="#2c3338" stroke-width="1"/>
<rect x="93" y="826.5" width="1539" height="82" fill="#162837"/>
<line x1="162.5" y1="783.5" x2="162.5" y2="826" stroke="#30373b" stroke-width="1"/>
<line x1="162.5" y1="827" x2="162.5" y2="908" stroke="#2c4c66" stroke-width="1" stroke-dasharray="1.2 1.2"/>
<line x1="162.5" y1="909" x2="162.5" y2="946.5" stroke="#30373b" stroke-width="1"/>
<line x1="255.5" y1="783.5" x2="255.5" y2="826" stroke="#30373b" stroke-width="1"/>
<line x1="255.5" y1="827" x2="255.5" y2="908" stroke="#2c4c66" stroke-width="1" stroke-dasharray="1.2 1.2"/>
<line x1="255.5" y1="909" x2="255.5" y2="946.5" stroke="#30373b" stroke-width="1"/>
<line x1="348.5" y1="783.5" x2="348.5" y2="826" stroke="#30373b" stroke-width="1"/>
<line x1="348.5" y1="827" x2="348.5" y2="908" stroke="#2c4c66" stroke-width="1" stroke-dasharray="1.2 1.2"/>
<line x1="348.5" y1="909" x2="348.5" y2="946.5" stroke="#30373b" stroke-width="1"/>
<line x1="452.5" y1="783.5" x2="452.5" y2="826" stroke="#30373b" stroke-width="1"/>
<line x1="452.5" y1="827" x2="452.5" y2="908" stroke="#2c4c66" stroke-width="1" stroke-dasharray="1.2 1.2"/>
<line x1="452.5" y1="909" x2="452.5" y2="946.5" stroke="#30373b" stroke-width="1"/>
<line x1="545.5" y1="783.5" x2="545.5" y2="826" stroke="#30373b" stroke-width="1"/>
<line x1="545.5" y1="827" x2="545.5" y2="908" stroke="#2c4c66" stroke-width="1" stroke-dasharray="1.2 1.2"/>
<line x1="545.5" y1="909" x2="545.5" y2="946.5" stroke="#30373b" stroke-width="1"/>
<line x1="638.5" y1="783.5" x2="638.5" y2="826" stroke="#30373b" stroke-width="1"/>
<line x1="638.5" y1="827" x2="638.5" y2="908" stroke="#2c4c66" stroke-width="1" stroke-dasharray="1.2 1.2"/>
<line x1="638.5" y1="909" x2="638.5" y2="946.5" stroke="#30373b" stroke-width="1"/>
<line x1="754.5" y1="783.5" x2="754.5" y2="826" stroke="#30373b" stroke-width="1"/>
<line x1="754.5" y1="827" x2="754.5" y2="908" stroke="#2c4c66" stroke-width="1" stroke-dasharray="1.2 1.2"/>
<line x1="754.5" y1="909" x2="754.5" y2="946.5" stroke="#30373b" stroke-width="1"/>
<line x1="847.5" y1="783.5" x2="847.5" y2="826" stroke="#30373b" stroke-width="1"/>
<line x1="847.5" y1="827" x2="847.5" y2="908" stroke="#2c4c66" stroke-width="1" stroke-dasharray="1.2 1.2"/>
<line x1="847.5" y1="909" x2="847.5" y2="946.5" stroke="#30373b" stroke-width="1"/>
<line x1="940.5" y1="783.5" x2="940.5" y2="826" stroke="#30373b" stroke-width="1"/>
<line x1="940.5" y1="827" x2="940.5" y2="908" stroke="#2c4c66" stroke-width="1" stroke-dasharray="1.2 1.2"/>
<line x1="940.5" y1="909" x2="940.5" y2="946.5" stroke="#30373b" stroke-width="1"/>
<line x1="1056.5" y1="783.5" x2="1056.5" y2="826" stroke="#30373b" stroke-width="1"/>
<line x1="1056.5" y1="827" x2="1056.5" y2="908" stroke="#2c4c66" stroke-width="1" stroke-dasharray="1.2 1.2"/>
<line x1="1056.5" y1="909" x2="1056.5" y2="946.5" stroke="#30373b" stroke-width="1"/>
<line x1="1149.5" y1="783.5" x2="1149.5" y2="826" stroke="#30373b" stroke-width="1"/>
<line x1="1149.5" y1="827" x2="1149.5" y2="908" stroke="#2c4c66" stroke-width="1" stroke-dasharray="1.2 1.2"/>
<line x1="1149.5" y1="909" x2="1149.5" y2="946.5" stroke="#30373b" stroke-width="1"/>
<line x1="1241.5" y1="783.5" x2="1241.5" y2="826" stroke="#30373b" stroke-width="1"/>
<line x1="1241.5" y1="827" x2="1241.5" y2="908" stroke="#2c4c66" stroke-width="1" stroke-dasharray="1.2 1.2"/>
<line x1="1241.5" y1="909" x2="1241.5" y2="946.5" stroke="#30373b" stroke-width="1"/>
<line x1="1369.5" y1="783.5" x2="1369.5" y2="826" stroke="#30373b" stroke-width="1"/>
<line x1="1369.5" y1="827" x2="1369.5" y2="908" stroke="#2c4c66" stroke-width="1" stroke-dasharray="1.2 1.2"/>
<line x1="1369.5" y1="909" x2="1369.5" y2="946.5" stroke="#30373b" stroke-width="1"/>
<line x1="1462.5" y1="783.5" x2="1462.5" y2="826" stroke="#30373b" stroke-width="1"/>
<line x1="1462.5" y1="827" x2="1462.5" y2="908" stroke="#2c4c66" stroke-width="1" stroke-dasharray="1.2 1.2"/>
<line x1="1462.5" y1="909" x2="1462.5" y2="946.5" stroke="#30373b" stroke-width="1"/>
<line x1="1555.5" y1="783.5" x2="1555.5" y2="826" stroke="#30373b" stroke-width="1"/>
<line x1="1555.5" y1="827" x2="1555.5" y2="908" stroke="#2c4c66" stroke-width="1" stroke-dasharray="1.2 1.2"/>
<line x1="1555.5" y1="909" x2="1555.5" y2="946.5" stroke="#30373b" stroke-width="1"/>
<line x1="93" y1="826.4" x2="1632" y2="826.4" stroke="#596066" stroke-width="1"/>
<line x1="99.5" y1="826.4" x2="1632" y2="826.4" stroke="#9da2a6" stroke-width="1" stroke-dasharray="3.5 3.66"/>
<line x1="93" y1="881.4" x2="1632" y2="881.4" stroke="#2a4d70" stroke-width="1"/>
<line x1="93" y1="881.4" x2="1632" y2="881.4" stroke="#5d5a4e" stroke-width="1" stroke-dasharray="1 2.2"/>
<line x1="99.5" y1="908.4" x2="1632" y2="908.4" stroke="#b0b4b8" stroke-width="1.05" stroke-dasharray="3.5 3.66"/>
<line x1="93" y1="936.5" x2="1632" y2="936.5" stroke="#545b61" stroke-width="1"/>
<g clip-path="url(#sub)" fill="none" stroke-linejoin="round">
<path d="M92.9 811.1 L104.5 812.2 L116.2 810.4 L127.8 837.1 L139.4 826.2 L151 810 L162.6 818.1 L174.2 869.4 L185.8 920.8 L197.4 912 L209 933.2 L220.6 912.7 L232.2 932.8 L243.8 874.9 L255.4 898.9 L267 886.2 L278.6 888.4 L290.2 884.7 L301.8 887.3 L313.4 877.1 L325 865 L336.6 860.2 L348.2 842.1 L359.8 802.3 L371.4 834.7 L383 827.9 L394.6 823.1 L406.3 838.8 L417.9 870.5 L429.5 931.7 L441.1 928 L452.7 896.1 L464.3 902.2 L475.9 931.2 L487.5 912 L499.1 879.2 L510.7 900.4 L522.3 871.6 L533.9 845.4 L545.5 841 L557.1 830.7 L568.7 803.2 L580.3 827.9 L591.9 835.3 L603.5 827.5 L615.1 823.5 L626.7 821.3 L638.3 817.4 L649.9 852.4 L661.5 870.5 L673.1 853 L684.7 868.3 L696.4 889.7 L708 898.5 L719.6 867.9 L731.2 915.3 L742.8 908.7 L754.4 873.8 L766 843.8 L777.6 837.3 L789.2 857.4 L800.8 824.6 L812.4 799.9 L824 804.3 L835.6 802.1 L847.2 832.7 L858.8 806 L870.4 801.7 L882 824.6 L893.6 817 L905.2 830.1 L916.8 812.2 L928.4 814.8 L940 818.5 L951.6 817 L963.2 808.2 L974.8 913.1 L986.5 921.4 L998.1 926.2 L1009.7 923.6 L1021.3 926.2 L1032.9 930.6 L1044.5 929.1 L1056.1 924.7 L1067.7 906.6 L1079.3 907.2 L1090.9 914.2 L1102.5 920.8 L1114.1 901.7 L1125.7 897.2 L1137.3 826.2 L1148.9 871.6 L1160.5 813 L1172.1 819.8 L1183.7 875.3 L1195.3 879.9 L1206.9 892.4 L1218.5 875.5 L1230.1 880.3 L1241.7 878.8 L1253.3 891.3 L1264.9 899.3 L1276.6 907 L1288.2 882.5 L1299.8 922.5 L1311.4 915.7 L1323 857.4 L1334.6 815.9 L1346.2 803.4 L1357.8 827.9 L1369.4 885.4 L1381 891.9 L1392.6 907.6 L1404.2 931 L1415.8 923.6 L1427.4 932.8 L1439 925.6 L1450.6 925.8 L1462.2 914.9 L1473.8 929.5 L1485.4 924 L1497 909.2 L1508.6 920.3 L1520.2 929.1 L1531.8 906.1 L1543.4 918.6 L1555 894.1 L1566.7 876 L1578.3 832.3 L1589.9 813.5 L1601.5 814.4 L1613.1 863.3 L1624.7 850.6 L1632 842.7" stroke="#2976ca" stroke-width="1.0"/>
<path d="M92.9 808.5 L104.5 809.3 L116.2 811.5 L127.8 819.8 L139.4 824.2 L151 824.4 L162.6 818.1 L174.2 831.8 L185.8 868.3 L197.4 898.9 L209 921.8 L220.6 919.2 L232.2 925.8 L243.8 906.6 L255.4 901.7 L267 886.9 L278.6 891.3 L290.2 886.5 L301.8 886.9 L313.4 883.2 L325 876 L336.6 866.8 L348.2 855.2 L359.8 835.1 L371.4 826.4 L383 821.3 L394.6 828.6 L406.3 829.6 L417.9 844.3 L429.5 881.4 L441.1 909.8 L452.7 919 L464.3 908.3 L475.9 910.5 L487.5 915.7 L499.1 907.6 L510.7 896.7 L522.3 883.6 L533.9 871.6 L545.5 852.6 L557.1 838.4 L568.7 825.1 L580.3 820.7 L591.9 822 L603.5 830.5 L615.1 829 L626.7 824.6 L638.3 821.3 L649.9 830.1 L661.5 846.9 L673.1 859.1 L684.7 864.6 L696.4 870.1 L708 885.4 L719.6 885.4 L731.2 893.9 L742.8 897.2 L754.4 899.8 L766 876 L777.6 851.9 L789.2 846 L800.8 839.5 L812.4 827.2 L824 809.3 L835.6 802.3 L847.2 812.8 L858.8 813.7 L870.4 813.3 L882 810.9 L893.6 814.4 L905.2 823.5 L916.8 820.3 L928.4 819.2 L940 815.4 L951.6 817 L963.2 814.4 L974.8 845.4 L986.5 881.4 L998.1 920.3 L1009.7 923.6 L1021.3 925.1 L1032.9 926.9 L1044.5 928.4 L1056.1 928.4 L1067.7 920.1 L1079.3 912.5 L1090.9 909.2 L1102.5 914.6 L1114.1 912.5 L1125.7 907 L1137.3 874.9 L1148.9 865 L1160.5 837.1 L1172.1 835.1 L1183.7 835.5 L1195.3 857.4 L1206.9 882.5 L1218.5 883.2 L1230.1 883.2 L1241.7 878.1 L1253.3 883.6 L1264.9 890.2 L1276.6 899.3 L1288.2 896.3 L1299.8 903.9 L1311.4 907 L1323 898.5 L1334.6 861.8 L1346.2 826.2 L1357.8 815.9 L1369.4 838.8 L1381 868.3 L1392.6 895.2 L1404.2 909.8 L1415.8 920.3 L1427.4 928.8 L1439 926.9 L1450.6 928 L1462.2 922.3 L1473.8 923.6 L1485.4 922.5 L1497 920.8 L1508.6 917.9 L1520.2 919.7 L1531.8 918.6 L1543.4 918.6 L1555 907.2 L1566.7 896.1 L1578.3 866.1 L1589.9 839.9 L1601.5 820.3 L1613.1 830.7 L1624.7 842.8 L1632 847.5" stroke="#c8641a" stroke-width="1.0"/>
</g>
<g fill="#bfc3c7" font-size="15.3" letter-spacing="0.6">
<text x="1642" y="886.6">40.00</text>
<text x="1642" y="941.5">0.00</text>
</g>
<rect x="1632.6" y="841" width="57" height="21.4" rx="0.8" fill="#151c22" stroke="#2a6cc4" stroke-width="1.1"/>
<rect x="1632.6" y="818.5" width="57" height="22.5" rx="0.8" fill="#151c22" stroke="#c4611b" stroke-width="1.2"/>
<text x="1642.3" y="835.2" fill="#f0730f" stroke="#f0730f" stroke-width="0.25" font-size="15.3" letter-spacing="0.6">68.00</text>
<text x="1642.3" y="857.2" fill="#2c70ee" stroke="#2c70ee" stroke-width="0.2" font-size="15.3" letter-spacing="0.6">62.09</text>
<g fill="#c3c7cb" font-size="15.3" text-anchor="middle">
<text x="162.6" y="967.9" font-weight="bold" letter-spacing="-0.2">Apr</text>
<text x="255.6" y="967.9" letter-spacing="0.4">10</text>
<text x="348.4" y="967.9" letter-spacing="0.4">21</text>
<text x="452.7" y="967.9" font-weight="bold" letter-spacing="-0.2">May</text>
<text x="545.7" y="967.9" letter-spacing="0.4">11</text>
<text x="638.5" y="967.9" letter-spacing="0.4">20</text>
<text x="754.4" y="967.9" font-weight="bold" letter-spacing="-0.2">Jun</text>
<text x="847.4" y="967.9" letter-spacing="0.4">10</text>
<text x="940.2" y="967.9" letter-spacing="0.4">19</text>
<text x="1056.1" y="967.9" font-weight="bold" letter-spacing="-0.2">Jul</text>
<text x="1149.1" y="967.9" letter-spacing="0.4">10</text>
<text x="1241.9" y="967.9" letter-spacing="0.4">20</text>
<text x="1369.4" y="967.9" font-weight="bold" letter-spacing="-0.2">Aug</text>
<text x="1462.4" y="967.9" letter-spacing="0.4">11</text>
<text x="1555.2" y="967.9" letter-spacing="0.4">20</text>
</g>
</g>
<rect x="59" y="983.6" width="1668" height="1.4" fill="#3e454a"/>
</svg></body></html>
